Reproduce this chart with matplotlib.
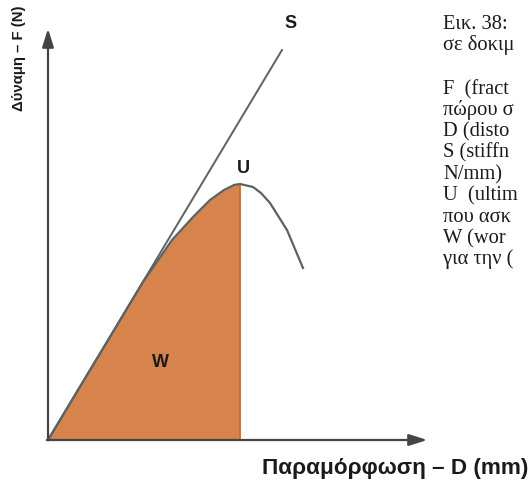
import matplotlib

matplotlib.use("Agg")
import matplotlib.pyplot as plt
import numpy as np

# load-deformation curve (arbitrary units)
deform = [0.0, 3.0, 6.2, 9.5, 12.4, 14.6, 16.2, 17.6, 18.6, 19.2, 20.5, 21.3, 22.2, 23.9, 25.5]
force = [0.0, 5.0, 10.3, 15.8, 20.0, 22.4, 24.0, 25.0, 25.5, 25.6, 25.3, 24.7, 23.7, 21.0, 17.2]
w_end = 19.2  # work area stops at ultimate load

# stiffness line S
stiff_d = [0.0, 23.4]
stiff_f = [0.0, 39.0]

point_labels = {"S": (24.3, 40.8), "U": (19.5, 26.3), "W": (11.2, 6.9)}

y_label = "Δύναμη – F (N)"
x_label = "Παραμόρφωση – D (mm)"
# caption column, cut by the right edge of the scan
side_lines = [
    "Εικ. 38:",
    "σε δοκιμ",
    "",
    "F  (fract",
    "πώρου σ",
    "D (disto",
    "S (stiffn",
    "N/mm)",
    "U  (ultim",
    "που ασκ",
    "W (wor",
    "για την (",
]

W, H = 528, 482
fig = plt.figure(figsize=(W / 100, H / 100), dpi=100, facecolor="white")
ax = fig.add_axes([0, 0, 1, 1])
ax.set_xlim(-4.8, 48.0)
ax.set_ylim(-4.2, 44.0)
ax.axis("off")

d = np.array(deform)
f = np.array(force)
mask = d <= w_end
ax.fill_between(d[mask], 0, f[mask], color="#d6844c", lw=0, zorder=1)
ax.plot([w_end, w_end], [0, f[mask][-1]], color="#c46a2c", lw=1.2, zorder=2)
ax.plot(stiff_d, stiff_f, color="#5b6263", lw=1.4, zorder=3)
ax.plot(d, f, color="#5b6263", lw=1.6, zorder=3)

# axes with arrow heads
arrow_kw = dict(arrowstyle="-|>,head_length=1.1,head_width=0.35", color="#444444", lw=1.6)
ax.annotate("", xy=(38.2, 0), xytext=(-0.4, 0), arrowprops=arrow_kw, zorder=4)
ax.annotate("", xy=(0, 41.4), xytext=(0, -0.1), arrowprops=arrow_kw, zorder=4)

for name, (px, py) in point_labels.items():
    ax.text(px, py, name, ha="center", va="bottom", fontsize=13,
            fontweight="bold", family="Liberation Sans", color="#1a1a1a")

fig.text(19 / W, 1 - 58 / H, y_label, rotation=90, ha="center", va="center",
         fontsize=10.8, fontweight="bold", family="Liberation Sans", color="#1a1a1a")
fig.text(262 / W, 1 - 474 / H, x_label, ha="left", va="baseline",
         fontsize=16.2, fontweight="bold", family="Liberation Sans", color="#1a1a1a")

for i, line in enumerate(side_lines):
    if not line:
        continue
    base = 29 + i * 21.4 if i < 2 else 94 + (i - 3) * 21.3
    fig.text(443 / W, 1 - base / H, line, ha="left", va="baseline",
             fontsize=14.8, family="Liberation Serif", color="#1a1a1a")

fig.savefig("out.png", dpi=100, facecolor="white")
